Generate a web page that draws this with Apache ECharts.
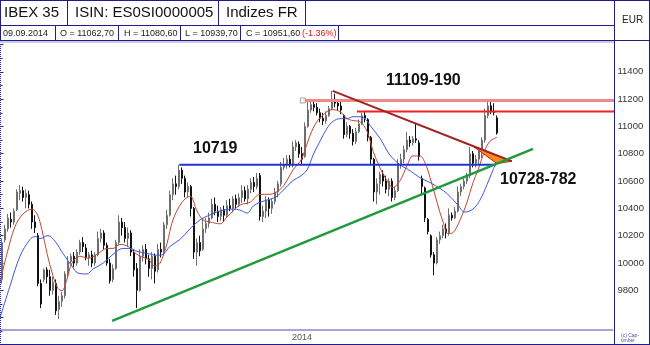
<!DOCTYPE html>
<html>
<head>
<meta charset="utf-8">
<script src="https://cdn.jsdelivr.net/npm/echarts@6/dist/echarts.min.js"></script>
<style>
  html, body { margin: 0; padding: 0; background: #ffffff; }
  #chart { width: 650px; height: 345px; }
</style>
</head>
<body>
<div id="chart"></div>
<script>
// IBEX 35 daily candles, one entry per trading day (last one is 09.09.2014)
const opens = [
  9880,10170,10250,10320,10300,10390,10510,10530,10480,10500,10430,10300,10200,9850,9880,9950,9900,9800,9850,9660,
  9720,9760,9920,10010,10050,10000,10080,10150,10110,10040,10060,10000,10060,10180,10220,10130,10000,9880,9960,10150,
  10300,10260,10180,10220,10080,9960,9800,10050,10100,10030,9960,10050,9950,10100,10090,10280,10350,10500,10580,10560,
  10680,10620,10520,10560,10400,10080,10150,10100,10250,10290,10330,10430,10380,10340,10390,10350,10420,10400,10470,10430,
  10480,10530,10470,10540,10590,10560,10640,10340,10380,10460,10400,10450,10520,10580,10700,10720,10760,10720,10850,10870,
  10800,10780,11000,11120,11160,11140,11100,11060,11040,11080,11130,11200,11170,11150,11080,10940,11000,10950,10890,10960,
  11020,11080,11050,10920,10760,10520,10580,10650,10600,10540,10600,10480,10530,10720,10760,10830,10900,10880,10910,10880,
  10620,10550,10320,10200,10060,10000,10170,10200,10250,10220,10350,10330,10380,10520,10560,10600,10640,10800,10730,10760,
  10820,10900,11080,11150,11110,11062.7
];
const highs = [
  10180,10280,10360,10370,10400,10540,10570,10560,10540,10530,10450,10350,10220,9880,9960,9970,9950,9900,9880,9760,
  9790,9940,10050,10070,10080,10100,10170,10190,10140,10080,10090,10080,10230,10250,10240,10150,10030,9990,10170,10350,
  10330,10300,10260,10240,10100,10000,10100,10130,10140,10060,10080,10070,10140,10150,10300,10390,10530,10620,10640,10719,
  10700,10640,10590,10570,10410,10180,10200,10330,10330,10370,10470,10480,10420,10410,10420,10460,10470,10490,10500,10510,
  10570,10560,10570,10620,10630,10660,10660,10420,10490,10480,10470,10550,10600,10740,10770,10790,10790,10890,10900,10890,
  10850,11030,11180,11190,11190,11170,11130,11100,11110,11150,11260,11240,11200,11180,11090,11030,11010,10980,10990,11050,
  11100,11109,11060,10930,10770,10620,10670,10680,10640,10620,10620,10560,10760,10800,10860,10960,10930,10930,11020,10900,
  10640,10560,10330,10210,10080,10190,10230,10280,10290,10400,10370,10410,10560,10580,10620,10660,10850,10820,10790,10850,
  10920,11130,11180,11190,11170,11080.6
];
const lows = [
  9850,10150,10230,10260,10280,10380,10460,10450,10400,10400,10250,10220,9830,9670,9860,9850,9760,9770,9620,9590,
  9680,9740,9900,9990,9970,9980,10060,10080,10020,9980,9970,9980,10050,10150,10100,9980,9850,9860,9950,10130,
  10200,10150,10120,10050,9900,9670,9790,10010,9990,9900,9880,9850,9930,10040,10070,10250,10340,10460,10500,10540,
  10580,10480,10480,10340,10030,9980,10050,10090,10220,10260,10320,10350,10300,10310,10300,10330,10380,10370,10400,10410,
  10440,10450,10430,10510,10520,10540,10310,10300,10330,10340,10360,10430,10480,10560,10680,10690,10700,10700,10820,10770,
  10720,10770,10990,11100,11110,11080,11030,11010,11020,11070,11120,11140,11120,11090,10910,10920,10910,10860,10870,10950,
  11010,11030,10890,10720,10450,10430,10500,10560,10510,10490,10450,10460,10520,10690,10730,10810,10850,10860,10880,10750,
  10500,10300,10210,10040,9910,9990,10140,10180,10180,10200,10310,10320,10370,10490,10540,10580,10620,10700,10700,10720,
  10770,10880,11060,11090,11080,10939.7
];
const closes = [
  10150,10250,10330,10300,10380,10520,10530,10480,10510,10430,10300,10260,9850,9700,9950,9900,9800,9860,9650,9720,
  9760,9920,10010,10050,10000,10080,10150,10120,10040,10060,10000,10060,10180,10220,10130,10000,9870,9960,10150,10300,
  10260,10180,10220,10080,9950,9800,10050,10100,10030,9960,10050,9940,10100,10080,10280,10350,10500,10580,10560,10680,
  10620,10520,10560,10400,10080,10150,10090,10250,10290,10330,10430,10380,10340,10390,10350,10420,10400,10470,10430,10480,
  10530,10470,10540,10590,10560,10620,10340,10380,10460,10400,10450,10520,10580,10700,10720,10760,10720,10850,10880,10800,
  10760,11000,11120,11160,11140,11100,11060,11040,11080,11130,11200,11170,11150,11120,10940,11000,10950,10890,10960,11020,
  11080,11060,10920,10760,10520,10580,10650,10600,10540,10600,10480,10530,10720,10760,10830,10900,10880,10910,10900,10780,
  10560,10330,10230,10060,10000,10170,10200,10250,10220,10350,10330,10380,10520,10560,10600,10630,10800,10730,10760,10820,
  10900,11080,11150,11110,11100,10951.6
];

// moving averages, [day index, level]
const fastAvg = [
  [-0.7,9855],[1.7,10071],[4.3,10265],[7,10359],[10,10395],[11.7,10359],[13.3,10244],[15,10071],[17,9906],[18.7,9812],
  [20,9798],[21.7,9884],[23.3,9999],[26,10050],[28.7,10035],[31.7,10064],[35,10107],[37,10107],[39.3,10136],[42,10122],
  [43.7,10086],[46,10050],[48.7,10028],[51,9978],[52.7,9999],[55,10143],[57,10316],[60,10445],[62.7,10489],[65,10381],
  [67,10316],[69.3,10301],[72.7,10287],[75,10337],[79.3,10424],[82.7,10445],[86,10503],[89.3,10503],[92.7,10539],[95,10604],
  [97,10683],[99.3,10741],[100.3,10784],[102.7,10935],[105,11036],[108.3,11108],[110.3,11122],[112.7,11108],[115,11057],[117,11043],
  [119.3,11035],[121.7,10963],[123.7,10819],[126,10697],[128.3,10604],[130.3,10553],[132.7,10604],[135,10712],[137,10784],[139.3,10784],
  [141,10733],[142.7,10625],[145,10445],[147,10301],[148.7,10215],[150.3,10222],[152.7,10316],[155,10445],[157,10589],[158.7,10683],
  [161,10827],[162.7,10892],[165,10920]
];
const slowAvg = [
  [-0.7,9596],[2.7,9834],[6,10050],[9.3,10172],[11,10194],[12.7,10179],[15.3,10201],[17.7,10158],[20.3,10071],[23.3,9978],
  [25.3,9927],[28.3,9920],[30.3,9956],[33.7,9999],[37,10064],[40.3,10107],[42.7,10107],[45,10086],[48.3,10071],[51.7,10057],
  [53.7,10064],[56,10122],[59.3,10172],[62.7,10251],[66,10316],[69.3,10352],[72.7,10381],[77,10395],[79.3,10388],[81.7,10366],
  [83.7,10416],[86,10445],[89.3,10467],[91.7,10489],[93.7,10532],[97,10604],[99.3,10633],[101.7,10683],[103.7,10791],[106,10892],
  [108.3,10985],[110.3,11036],[112.7,11057],[115,11057],[117,11071],[119.3,11071],[121,11057],[122.7,11007],[126,10913],[129.3,10791],
  [132.7,10719],[136,10676],[139.3,10625],[142.7,10589],[146,10546],[148.3,10510],[151.7,10431],[154.3,10373],[157,10395],[159.3,10460],
  [161.7,10575],[163.7,10683],[165,10741]
];

// drawn studies, [day index, level]
const support10719 = [[59.1,10719],[164.5,10719]];
const resistance11190 = [[100.3,11190],[204,11190]];
const resistance11109 = [[118.3,11109],[204,11109]];
const downTrend = [[110.2,11260],[169.9,10745]];
const upTrend = [[36.7,9577],[177,10836]];
const apexZone = [[156.9,10857],[165,10728],[169.9,10745]];

// time axis: trading-day slots (chart leaves room to the right)
const slotCount = 204;
const monthStarts = [18,37,57,78,98,118,140,160,181,202];
const yearLabels = { 98: '2014' };
const priceTicks = [9800,10000,10200,10400,10600,10800,11000,11200,11400];

const slots = Array.from({ length: slotCount }, (_, i) => String(i));
const candles = opens.map((o, i) => [o, closes[i], lows[i], highs[i]]);
const shift = pts => pts.map(([d, v]) => [d + 0.5, v]);

const FONT = 'Liberation Sans, Arial, sans-serif';
const NAVY = '#1e1e86';

const chart = echarts.init(document.getElementById('chart'), null, { renderer: 'canvas' });

const trendLine = (name, pts, color, width) => ({
  name, type: 'line', xAxisIndex: 1, yAxisIndex: 0,
  data: shift(pts), symbol: 'none', silent: true, z: 6,
  lineStyle: { color, width }, animation: false
});

const headerText = (x, y, text, size, fill) => ({
  type: 'text', left: x, top: y, z: 11,
  style: { text, font: size + 'px ' + FONT, fill: fill || '#111' }
});
const vline = (x, y1, y2) => ({ type: 'line', shape: { x1: x, y1, x2: x, y2 }, style: { stroke: NAVY, lineWidth: 1 }, z: 10 });
const hline = (y, x1, x2) => ({ type: 'line', shape: { x1, y1: y, x2, y2: y }, style: { stroke: NAVY, lineWidth: 1 }, z: 10 });

chart.setOption({
  animation: false,
  backgroundColor: '#ffffff',
  grid: [
    { left: 0.5, top: 44.46, width: 612, height: 306.2 },
    { left: 0.5, top: 329, width: 612, height: 1 }
  ],
  xAxis: [
    { type: 'category', gridIndex: 0, data: slots, show: false, boundaryGap: true },
    { type: 'value', gridIndex: 0, min: 0, max: slotCount, show: false },
    {
      type: 'category', gridIndex: 1, data: slots, boundaryGap: true, position: 'bottom',
      axisLine: { lineStyle: { color: '#a6a6d6', width: 2 } },
      axisTick: { length: 3, lineStyle: { color: '#333' }, interval: i => monthStarts.includes(i) },
      axisLabel: {
        interval: i => yearLabels[i] !== undefined,
        formatter: (v, i) => yearLabels[i] || '',
        fontSize: 9, color: '#555', fontFamily: FONT, margin: 3, padding: [0, 0, 0, 12]
      },
      splitLine: { show: false }
    }
  ],
  yAxis: [
    {
      type: 'value', gridIndex: 0, min: 9400, max: 11600, interval: 200, position: 'right',
      axisLine: { show: false },
      axisTick: { show: true, length: 3, lineStyle: { color: '#333' } },
      minorTick: { show: true, splitNumber: 2, length: 2, lineStyle: { color: '#333' } },
      axisLabel: {
        fontSize: 9.5, color: '#333', fontFamily: FONT, margin: 5,
        formatter: v => priceTicks.includes(v) ? String(v) : ''
      },
      splitLine: { show: false }
    },
    { type: 'value', gridIndex: 1, show: false }
  ],
  series: [
    {
      name: 'IBEX 35', type: 'candlestick', xAxisIndex: 0, yAxisIndex: 0,
      data: candles, barWidth: 2, z: 3,
      itemStyle: { color: '#ffffff', color0: '#111111', borderColor: '#6e6e6e', borderColor0: '#111111', borderWidth: 1 },
      markLine: {
        silent: true, symbol: 'none',
        lineStyle: { opacity: 0 },
        label: {
          position: 'end', distance: 2, formatter: '10951',
          backgroundColor: '#ffff80', borderColor: '#666', borderWidth: 1,
          padding: [1, 2, 0, 3], fontSize: 10, color: '#000', fontFamily: FONT
        },
        data: [{ yAxis: closes[closes.length - 1] }]
      }
    },
    {
      name: 'avg fast', type: 'line', xAxisIndex: 1, yAxisIndex: 0,
      data: shift(fastAvg), smooth: 0.35, symbol: 'none', z: 4,
      lineStyle: { color: '#c4462e', width: 1 }
    },
    {
      name: 'avg slow', type: 'line', xAxisIndex: 1, yAxisIndex: 0,
      data: shift(slowAvg), smooth: 0.35, symbol: 'none', z: 4,
      lineStyle: { color: '#3a56e6', width: 1 }
    },
    {
      name: 'apex', type: 'custom', xAxisIndex: 1, yAxisIndex: 0, z: 5,
      data: [0],
      renderItem: (params, api) => ({
        type: 'polygon',
        shape: { points: shift(apexZone).map(p => api.coord(p)) },
        style: { fill: '#ff8a1e', stroke: '#b02a1a', lineWidth: 1 }
      })
    },
    trendLine('support 10719', support10719, '#2233d8', 2),
    trendLine('resistance 11190', resistance11190, '#f08a8a', 3),
    trendLine('resistance 11109', resistance11109, '#ee2222', 2),
    trendLine('down trend', downTrend, '#a32222', 2),
    trendLine('up trend', upTrend, '#1f9a3c', 2.5),
    {
      name: 'anchor', type: 'scatter', xAxisIndex: 1, yAxisIndex: 0, z: 7,
      data: [shift(resistance11190)[0]], symbol: 'rect', symbolSize: 5,
      itemStyle: { color: '#ffffff', borderColor: '#909090', borderWidth: 1 }
    }
  ],
  graphic: [
    // plot frame
    { type: 'line', shape: { x1: 0.5, y1: 40, x2: 0.5, y2: 345 }, style: { stroke: '#2a2ad0', lineWidth: 1, lineDash: [1, 1] }, z: 10 },
    vline(614.5, 0, 345),
    vline(649.5, 0, 345),
    hline(344.5, 0, 650),
    // header frame
    { type: 'rect', shape: { x: 0, y: 41, width: 614, height: 2 }, style: { fill: '#c9c9ea' }, z: 10 },
    hline(0.5, 0, 650),
    hline(25.5, 0, 614.5),
    hline(40.5, 0, 650),
    vline(0.5, 0, 41),
    ...[67.5, 218.5, 305.5].map(x => vline(x, 0, 25.5)),
    ...[55.5, 118.5, 180.5, 240.5, 338.5].map(x => vline(x, 25.5, 40.5)),
    // header texts
    headerText(4, 5, 'IBEX 35', 15),
    headerText(75, 5, 'ISIN: ES0SI0000005', 15),
    headerText(226, 5, 'Indizes FR', 15),
    headerText(3, 29, '09.09.2014', 9, '#222'),
    headerText(60, 29, 'O = 11062,70', 9, '#222'),
    headerText(124, 29, 'H = 11080,60', 9, '#222'),
    headerText(185, 29, 'L = 10939,70', 9, '#222'),
    headerText(246, 29, 'C = 10951,60', 9, '#222'),
    headerText(302, 29, '(-1.36%)', 9, '#e01818'),
    headerText(622, 15, 'EUR', 10, '#222'),
    { type: 'text', left: 621, top: 333, z: 11, style: { text: '(c) Cap-\ntimber', font: '5px ' + FONT, fill: '#5050a0', lineHeight: 5 } },
    // study annotations
    { type: 'text', left: 193, top: 141, z: 11, style: { text: '10719', font: 'bold 16px ' + FONT, fill: '#111' } },
    { type: 'text', left: 386, top: 73, z: 11, style: { text: '11109-190', font: 'bold 16px ' + FONT, fill: '#111' } },
    { type: 'text', left: 500, top: 172, z: 11, style: { text: '10728-782', font: 'bold 16px ' + FONT, fill: '#111' } }
  ]
});
</script>
</body>
</html>
